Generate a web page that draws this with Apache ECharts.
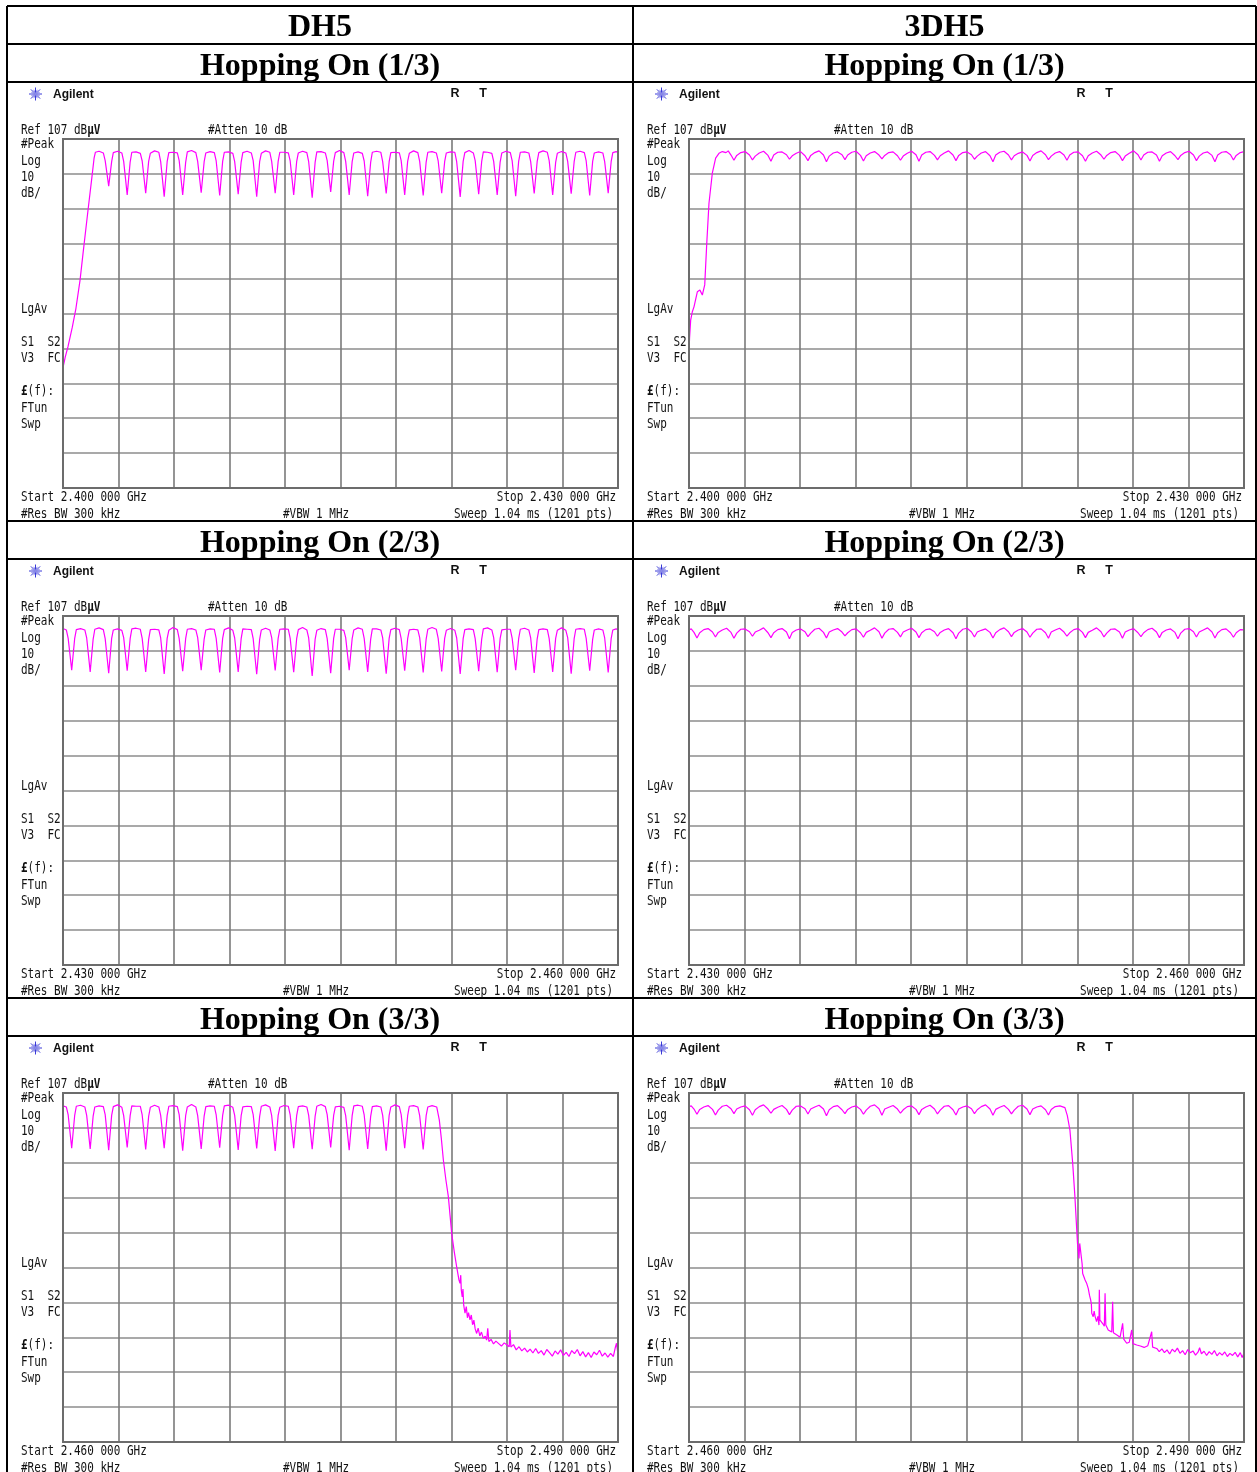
<!DOCTYPE html>
<html>
<head>
<meta charset="utf-8">
<script src="https://cdn.jsdelivr.net/npm/echarts/dist/echarts.min.js"></script>
<style>
  html, body { margin: 0; padding: 0; background: #fff; }
  #chart { width: 1257px; height: 1472px; }
</style>
</head>
<body>
<div id="chart"></div>
<script>
// ---- Table headings ----
const columnTitles = ['DH5', '3DH5'];
const rowTitles = ['Hopping On (1/3)', 'Hopping On (2/3)', 'Hopping On (3/3)'];

// ---- Analyzer settings (one sweep per row) ----
const spanStartMHz = [2400, 2430, 2460];
const spanStopMHz = [2430, 2460, 2490];
const refLevel = 107;      // dBµV, top of screen
const dbPerDiv = 10;
const divisions = 10;
const attenDb = 10;
const resBw = '300 kHz';
const vbw = '1 MHz';
const sweepText = '1.04 ms (1201 pts)';

// ---- Traces: [frequency MHz, level dBµV] ----
const dh5Low = [
  [2400.00, 41.5], [2400.05, 41.3], [2400.12, 44.5], [2400.27, 47.5], [2400.50, 53.0],
  [2400.70, 58.5], [2400.92, 66.5], [2401.10, 75.0], [2401.35, 86.5], [2401.55, 95.5],
  [2401.68, 101.5], [2401.75, 103.2], [2401.95, 103.5], [2402.18, 103.0], [2402.28, 100.8], [2402.47, 93.5],
  [2402.63, 100.5], [2402.72, 103.1], [2402.95, 103.5], [2403.18, 103.0], [2403.28, 100.6], [2403.47, 91.0],
  [2403.63, 100.4], [2403.72, 103.2], [2403.95, 103.3], [2404.18, 102.9], [2404.28, 100.7], [2404.47, 91.5],
  [2404.63, 100.6], [2404.72, 102.9], [2404.95, 103.6], [2405.18, 103.2], [2405.28, 100.5], [2405.47, 90.5],
  [2405.63, 100.5], [2405.72, 103.1], [2405.95, 103.2], [2406.18, 103.0], [2406.28, 100.8], [2406.47, 91.0],
  [2406.63, 100.3], [2406.72, 103.3], [2406.95, 103.7], [2407.18, 103.1], [2407.28, 100.6], [2407.47, 91.6],
  [2407.63, 100.5], [2407.72, 103.0], [2407.95, 103.4], [2408.18, 103.1], [2408.28, 100.7], [2408.47, 90.8],
  [2408.63, 100.6], [2408.72, 103.2], [2408.95, 103.3], [2409.18, 102.9], [2409.28, 100.5], [2409.47, 91.2],
  [2409.63, 100.4], [2409.72, 103.1], [2409.95, 103.5], [2410.18, 103.0], [2410.28, 100.8], [2410.47, 90.5],
  [2410.63, 100.5], [2410.72, 102.9], [2410.95, 103.6], [2411.18, 103.2], [2411.28, 100.6], [2411.47, 91.5],
  [2411.63, 100.6], [2411.72, 103.2], [2411.95, 103.2], [2412.18, 103.0], [2412.28, 100.7], [2412.47, 91.0],
  [2412.63, 100.5], [2412.72, 103.0], [2412.95, 103.5], [2413.18, 103.1], [2413.28, 100.5], [2413.47, 90.2],
  [2413.63, 100.4], [2413.72, 103.3], [2413.95, 103.4], [2414.18, 103.0], [2414.28, 100.8], [2414.47, 91.8],
  [2414.63, 100.6], [2414.72, 103.1], [2414.95, 103.7], [2415.18, 103.1], [2415.28, 100.6], [2415.47, 91.0],
  [2415.63, 100.5], [2415.72, 103.0], [2415.95, 103.3], [2416.18, 102.9], [2416.28, 100.7], [2416.47, 90.6],
  [2416.63, 100.3], [2416.72, 103.2], [2416.95, 103.5], [2417.18, 103.2], [2417.28, 100.5], [2417.47, 91.4],
  [2417.63, 100.5], [2417.72, 103.1], [2417.95, 103.2], [2418.18, 103.0], [2418.28, 100.8], [2418.47, 91.0],
  [2418.63, 100.6], [2418.72, 102.9], [2418.95, 103.6], [2419.18, 103.1], [2419.28, 100.6], [2419.47, 90.8],
  [2419.63, 100.4], [2419.72, 103.2], [2419.95, 103.4], [2420.18, 103.0], [2420.28, 100.7], [2420.47, 91.5],
  [2420.63, 100.5], [2420.72, 103.0], [2420.95, 103.3], [2421.18, 103.2], [2421.28, 100.5], [2421.47, 90.4],
  [2421.63, 100.6], [2421.72, 103.1], [2421.95, 103.7], [2422.18, 103.0], [2422.28, 100.8], [2422.47, 91.2],
  [2422.63, 100.5], [2422.72, 103.3], [2422.95, 103.2], [2423.18, 102.9], [2423.28, 100.6], [2423.47, 91.0],
  [2423.63, 100.4], [2423.72, 103.0], [2423.95, 103.5], [2424.18, 103.1], [2424.28, 100.7], [2424.47, 90.6],
  [2424.63, 100.6], [2424.72, 103.2], [2424.95, 103.3], [2425.18, 103.0], [2425.28, 100.5], [2425.47, 91.4],
  [2425.63, 100.5], [2425.72, 103.1], [2425.95, 103.6], [2426.18, 103.2], [2426.28, 100.8], [2426.47, 91.0],
  [2426.63, 100.3], [2426.72, 102.9], [2426.95, 103.4], [2427.18, 103.0], [2427.28, 100.6], [2427.47, 91.3],
  [2427.63, 100.5], [2427.72, 103.2], [2427.95, 103.5], [2428.18, 103.1], [2428.28, 100.7], [2428.47, 90.8],
  [2428.63, 100.6], [2428.72, 103.0], [2428.95, 103.3], [2429.18, 103.0], [2429.28, 100.5], [2429.47, 91.5],
  [2429.63, 100.5], [2429.72, 103.1], [2429.90, 103.4], [2430.00, 103.2]
];

const dh5Mid = [
  [2430.00, 103.4], [2430.18, 103.0], [2430.28, 100.6], [2430.47, 91.5],
  [2430.63, 100.5], [2430.72, 103.1], [2430.95, 103.4], [2431.18, 103.0], [2431.28, 100.7], [2431.47, 91.0],
  [2431.63, 100.4], [2431.72, 103.2], [2431.95, 103.6], [2432.18, 103.1], [2432.28, 100.5], [2432.47, 90.6],
  [2432.63, 100.6], [2432.72, 103.0], [2432.95, 103.3], [2433.18, 102.9], [2433.28, 100.8], [2433.47, 91.3],
  [2433.63, 100.5], [2433.72, 103.3], [2433.95, 103.5], [2434.18, 103.2], [2434.28, 100.6], [2434.47, 91.0],
  [2434.63, 100.3], [2434.72, 103.1], [2434.95, 103.2], [2435.18, 103.0], [2435.28, 100.7], [2435.47, 90.4],
  [2435.63, 100.6], [2435.72, 102.9], [2435.95, 103.7], [2436.18, 103.1], [2436.28, 100.5], [2436.47, 91.2],
  [2436.63, 100.5], [2436.72, 103.2], [2436.95, 103.4], [2437.18, 103.0], [2437.28, 100.8], [2437.47, 91.5],
  [2437.63, 100.4], [2437.72, 103.0], [2437.95, 103.3], [2438.18, 103.2], [2438.28, 100.6], [2438.47, 90.8],
  [2438.63, 100.6], [2438.72, 103.1], [2438.95, 103.6], [2439.18, 102.9], [2439.28, 100.7], [2439.47, 91.0],
  [2439.63, 100.5], [2439.72, 103.3], [2439.95, 103.2], [2440.18, 103.1], [2440.28, 100.5], [2440.47, 90.3],
  [2440.63, 100.3], [2440.72, 103.0], [2440.95, 103.5], [2441.18, 103.0], [2441.28, 100.8], [2441.47, 91.4],
  [2441.63, 100.6], [2441.72, 103.2], [2441.95, 103.3], [2442.18, 103.2], [2442.28, 100.6], [2442.47, 90.9],
  [2442.63, 100.5], [2442.72, 103.1], [2442.95, 103.7], [2443.18, 103.0], [2443.28, 100.7], [2443.47, 89.8],
  [2443.63, 100.4], [2443.72, 102.9], [2443.95, 103.4], [2444.18, 103.1], [2444.28, 100.5], [2444.47, 90.6],
  [2444.63, 100.6], [2444.72, 103.2], [2444.95, 103.2], [2445.18, 102.9], [2445.28, 100.8], [2445.47, 91.5],
  [2445.63, 100.5], [2445.72, 103.0], [2445.95, 103.6], [2446.18, 103.2], [2446.28, 100.6], [2446.47, 91.0],
  [2446.63, 100.3], [2446.72, 103.3], [2446.95, 103.3], [2447.18, 103.0], [2447.28, 100.7], [2447.47, 90.5],
  [2447.63, 100.6], [2447.72, 103.1], [2447.95, 103.5], [2448.18, 103.1], [2448.28, 100.5], [2448.47, 91.3],
  [2448.63, 100.5], [2448.72, 103.0], [2448.95, 103.2], [2449.18, 103.0], [2449.28, 100.8], [2449.47, 90.8],
  [2449.63, 100.4], [2449.72, 103.2], [2449.95, 103.7], [2450.18, 103.2], [2450.28, 100.6], [2450.47, 91.1],
  [2450.63, 100.6], [2450.72, 102.9], [2450.95, 103.4], [2451.18, 102.9], [2451.28, 100.7], [2451.47, 90.4],
  [2451.63, 100.5], [2451.72, 103.1], [2451.95, 103.3], [2452.18, 103.1], [2452.28, 100.5], [2452.47, 91.2],
  [2452.63, 100.3], [2452.72, 103.3], [2452.95, 103.6], [2453.18, 103.0], [2453.28, 100.8], [2453.47, 90.9],
  [2453.63, 100.6], [2453.72, 103.0], [2453.95, 103.2], [2454.18, 103.2], [2454.28, 100.6], [2454.47, 91.5],
  [2454.63, 100.5], [2454.72, 103.2], [2454.95, 103.5], [2455.18, 103.0], [2455.28, 100.7], [2455.47, 90.7],
  [2455.63, 100.4], [2455.72, 103.1], [2455.95, 103.3], [2456.18, 103.1], [2456.28, 100.5], [2456.47, 91.0],
  [2456.63, 100.6], [2456.72, 102.9], [2456.95, 103.6], [2457.18, 102.9], [2457.28, 100.8], [2457.47, 90.5],
  [2457.63, 100.5], [2457.72, 103.2], [2457.95, 103.4], [2458.18, 103.2], [2458.28, 100.6], [2458.47, 91.3],
  [2458.63, 100.3], [2458.72, 103.0], [2458.95, 103.3], [2459.18, 103.0], [2459.28, 100.7], [2459.47, 90.8],
  [2459.63, 100.5], [2459.72, 103.0], [2459.90, 103.3], [2460.00, 103.1]
];

const dh5High = [
  [2460.00, 103.3], [2460.18, 103.0], [2460.28, 100.7], [2460.47, 91.2],
  [2460.63, 100.5], [2460.72, 103.2], [2460.95, 103.5], [2461.18, 103.0], [2461.28, 100.6], [2461.47, 91.0],
  [2461.63, 100.4], [2461.72, 103.0], [2461.95, 103.3], [2462.18, 103.1], [2462.28, 100.8], [2462.47, 90.6],
  [2462.63, 100.6], [2462.72, 103.1], [2462.95, 103.6], [2463.18, 102.9], [2463.28, 100.5], [2463.47, 91.4],
  [2463.63, 100.5], [2463.72, 103.3], [2463.95, 103.2], [2464.18, 103.2], [2464.28, 100.7], [2464.47, 90.8],
  [2464.63, 100.3], [2464.72, 102.9], [2464.95, 103.5], [2465.18, 103.0], [2465.28, 100.6], [2465.47, 91.2],
  [2465.63, 100.6], [2465.72, 103.2], [2465.95, 103.4], [2466.18, 103.1], [2466.28, 100.8], [2466.47, 90.5],
  [2466.63, 100.5], [2466.72, 103.0], [2466.95, 103.7], [2467.18, 103.0], [2467.28, 100.5], [2467.47, 91.0],
  [2467.63, 100.4], [2467.72, 103.1], [2467.95, 103.3], [2468.18, 103.2], [2468.28, 100.7], [2468.47, 91.3],
  [2468.63, 100.6], [2468.72, 103.3], [2468.95, 103.5], [2469.18, 102.9], [2469.28, 100.6], [2469.47, 90.7],
  [2469.63, 100.5], [2469.72, 103.0], [2469.95, 103.2], [2470.18, 103.1], [2470.28, 100.8], [2470.47, 91.1],
  [2470.63, 100.3], [2470.72, 103.2], [2470.95, 103.6], [2471.18, 103.0], [2471.28, 100.5], [2471.47, 90.4],
  [2471.63, 100.6], [2471.72, 102.9], [2471.95, 103.4], [2472.18, 103.2], [2472.28, 100.7], [2472.47, 91.2],
  [2472.63, 100.5], [2472.72, 103.1], [2472.95, 103.3], [2473.18, 103.0], [2473.28, 100.6], [2473.47, 90.9],
  [2473.63, 100.4], [2473.72, 103.2], [2473.95, 103.7], [2474.18, 103.1], [2474.28, 100.8], [2474.47, 91.4],
  [2474.63, 100.6], [2474.72, 103.0], [2474.95, 103.2], [2475.18, 102.9], [2475.28, 100.5], [2475.47, 90.6],
  [2475.63, 100.5], [2475.72, 103.3], [2475.95, 103.5], [2476.18, 103.2], [2476.28, 100.7], [2476.47, 91.0],
  [2476.63, 100.3], [2476.72, 103.1], [2476.95, 103.3], [2477.18, 103.0], [2477.28, 100.6], [2477.47, 90.5],
  [2477.63, 100.6], [2477.72, 103.0], [2477.95, 103.6], [2478.18, 103.1], [2478.28, 100.8], [2478.47, 91.2],
  [2478.63, 100.5], [2478.72, 103.2], [2478.95, 103.4], [2479.18, 103.0], [2479.28, 100.5], [2479.47, 90.8],
  [2479.63, 100.5], [2479.72, 103.0], [2479.95, 103.4], [2480.20, 103.0],
  [2480.34, 99.3], [2480.45, 94.0], [2480.56, 87.8], [2480.70, 82.0], [2480.83, 77.3], [2480.92, 72.0],
  [2481.01, 66.8], [2481.15, 61.5], [2481.28, 57.2], [2481.40, 53.5], [2481.46, 52.5], [2481.50, 54.8],
  [2481.53, 50.5], [2481.58, 48.6], [2481.62, 50.8], [2481.66, 46.2], [2481.73, 43.9], [2481.80, 45.8],
  [2481.86, 42.6], [2481.92, 44.1], [2482.00, 42.0], [2482.07, 43.4], [2482.14, 40.6], [2482.21, 41.9],
  [2482.28, 39.4], [2482.36, 38.1], [2482.44, 39.6], [2482.53, 37.4], [2482.62, 38.5], [2482.72, 36.7],
  [2482.82, 37.3], [2482.90, 36.2], [2482.96, 39.6], [2483.02, 35.8], [2483.14, 36.4], [2483.27, 35.1],
  [2483.40, 35.9], [2483.55, 35.2], [2483.70, 34.5], [2483.85, 35.4], [2484.00, 34.8], [2484.12, 34.3],
  [2484.16, 39.1], [2484.21, 34.2], [2484.35, 34.9], [2484.50, 33.4], [2484.65, 34.3], [2484.80, 33.1],
  [2484.95, 33.9], [2485.10, 32.8], [2485.25, 33.6], [2485.40, 32.5], [2485.55, 33.8], [2485.70, 32.4],
  [2485.85, 33.2], [2486.00, 31.9], [2486.15, 33.5], [2486.30, 32.6], [2486.45, 31.6], [2486.60, 33.1],
  [2486.75, 32.2], [2486.90, 33.4], [2487.05, 31.8], [2487.20, 32.7], [2487.35, 31.5], [2487.50, 33.2],
  [2487.65, 32.3], [2487.80, 33.5], [2487.95, 31.7], [2488.10, 32.9], [2488.25, 31.4], [2488.40, 32.6],
  [2488.55, 31.2], [2488.70, 32.8], [2488.85, 32.0], [2489.00, 33.3], [2489.15, 31.6], [2489.30, 32.5],
  [2489.45, 31.3], [2489.60, 32.4], [2489.75, 31.5], [2489.85, 34.0], [2489.92, 35.3], [2490.00, 32.0]
];

const tdh5Low = [
  [2400.00, 45.5], [2400.03, 50.0], [2400.09, 55.1], [2400.18, 57.5], [2400.27, 58.9], [2400.45, 63.2],
  [2400.59, 63.7], [2400.72, 62.3], [2400.85, 65.2], [2400.96, 77.1], [2401.08, 88.6], [2401.26, 97.2],
  [2401.44, 101.5], [2401.62, 102.9], [2401.80, 103.4], [2402.00, 103.1], [2402.12, 103.6], [2402.27, 102.4], [2402.43, 100.9],
  [2402.58, 102.3], [2402.80, 103.1], [2403.03, 103.4], [2403.27, 102.4], [2403.43, 101.0],
  [2403.58, 102.1], [2403.80, 103.0], [2404.03, 103.5], [2404.27, 102.3], [2404.43, 100.6],
  [2404.58, 102.4], [2404.80, 103.2], [2405.03, 103.3], [2405.27, 102.5], [2405.43, 101.2],
  [2405.58, 102.2], [2405.80, 102.9], [2406.03, 103.4], [2406.27, 102.2], [2406.43, 100.8],
  [2406.58, 102.3], [2406.80, 103.1], [2407.03, 103.6], [2407.27, 102.4], [2407.43, 100.5],
  [2407.58, 102.1], [2407.80, 103.0], [2408.03, 103.3], [2408.27, 102.5], [2408.43, 101.1],
  [2408.58, 102.4], [2408.80, 103.2], [2409.03, 103.5], [2409.27, 102.3], [2409.43, 100.7],
  [2409.58, 102.2], [2409.80, 103.0], [2410.03, 103.4], [2410.27, 102.4], [2410.43, 101.3],
  [2410.58, 102.3], [2410.80, 103.1], [2411.03, 103.3], [2411.27, 102.2], [2411.43, 100.9],
  [2411.58, 102.1], [2411.80, 102.9], [2412.03, 103.5], [2412.27, 102.5], [2412.43, 100.6],
  [2412.58, 102.4], [2412.80, 103.2], [2413.03, 103.4], [2413.27, 102.3], [2413.43, 101.0],
  [2413.58, 102.2], [2413.80, 103.0], [2414.03, 103.6], [2414.27, 102.4], [2414.43, 100.8],
  [2414.58, 102.3], [2414.80, 103.1], [2415.03, 103.3], [2415.27, 102.5], [2415.43, 101.2],
  [2415.58, 102.1], [2415.80, 103.0], [2416.03, 103.4], [2416.27, 102.2], [2416.43, 100.5],
  [2416.58, 102.4], [2416.80, 103.2], [2417.03, 103.5], [2417.27, 102.4], [2417.43, 101.0],
  [2417.58, 102.2], [2417.80, 102.9], [2418.03, 103.3], [2418.27, 102.3], [2418.43, 100.7],
  [2418.58, 102.3], [2418.80, 103.1], [2419.03, 103.6], [2419.27, 102.5], [2419.43, 101.1],
  [2419.58, 102.1], [2419.80, 103.0], [2420.03, 103.4], [2420.27, 102.4], [2420.43, 100.9],
  [2420.58, 102.4], [2420.80, 103.2], [2421.03, 103.3], [2421.27, 102.2], [2421.43, 100.6],
  [2421.58, 102.2], [2421.80, 103.0], [2422.03, 103.5], [2422.27, 102.4], [2422.43, 101.2],
  [2422.58, 102.3], [2422.80, 103.1], [2423.03, 103.4], [2423.27, 102.3], [2423.43, 100.8],
  [2423.58, 102.1], [2423.80, 102.9], [2424.03, 103.6], [2424.27, 102.5], [2424.43, 101.0],
  [2424.58, 102.4], [2424.80, 103.2], [2425.03, 103.3], [2425.27, 102.4], [2425.43, 100.6],
  [2425.58, 102.2], [2425.80, 103.0], [2426.03, 103.4], [2426.27, 102.2], [2426.43, 101.1],
  [2426.58, 102.3], [2426.80, 103.1], [2427.03, 103.5], [2427.27, 102.4], [2427.43, 100.8],
  [2427.58, 102.1], [2427.80, 103.0], [2428.03, 103.3], [2428.27, 102.3], [2428.43, 100.5],
  [2428.58, 102.4], [2428.80, 103.2], [2429.03, 103.4], [2429.27, 102.5], [2429.43, 101.0],
  [2429.58, 102.3], [2429.80, 103.1], [2430.00, 103.4]
];

const tdh5Mid = [
  [2430.00, 103.0], [2430.12, 103.3], [2430.27, 102.3], [2430.43, 100.7],
  [2430.58, 102.2], [2430.80, 103.1], [2431.03, 103.4], [2431.27, 102.4], [2431.43, 101.0],
  [2431.58, 102.3], [2431.80, 103.0], [2432.03, 103.5], [2432.27, 102.3], [2432.43, 100.6],
  [2432.58, 102.1], [2432.80, 103.2], [2433.03, 103.3], [2433.27, 102.5], [2433.43, 101.2],
  [2433.58, 102.4], [2433.80, 102.9], [2434.03, 103.6], [2434.27, 102.2], [2434.43, 100.8],
  [2434.58, 102.2], [2434.80, 103.1], [2435.03, 103.4], [2435.27, 102.4], [2435.43, 100.5],
  [2435.58, 102.3], [2435.80, 103.0], [2436.03, 103.3], [2436.27, 102.5], [2436.43, 101.1],
  [2436.58, 102.1], [2436.80, 103.2], [2437.03, 103.5], [2437.27, 102.3], [2437.43, 100.7],
  [2437.58, 102.4], [2437.80, 103.0], [2438.03, 103.4], [2438.27, 102.4], [2438.43, 101.3],
  [2438.58, 102.2], [2438.80, 103.1], [2439.03, 103.3], [2439.27, 102.2], [2439.43, 100.9],
  [2439.58, 102.3], [2439.80, 102.9], [2440.03, 103.6], [2440.27, 102.5], [2440.43, 100.6],
  [2440.58, 102.1], [2440.80, 103.2], [2441.03, 103.4], [2441.27, 102.3], [2441.43, 101.0],
  [2441.58, 102.4], [2441.80, 103.0], [2442.03, 103.5], [2442.27, 102.4], [2442.43, 100.8],
  [2442.58, 102.2], [2442.80, 103.1], [2443.03, 103.3], [2443.27, 102.5], [2443.43, 101.2],
  [2443.58, 102.3], [2443.80, 103.0], [2444.03, 103.4], [2444.27, 102.2], [2444.43, 100.5],
  [2444.58, 102.1], [2444.80, 103.2], [2445.03, 103.5], [2445.27, 102.4], [2445.43, 101.0],
  [2445.58, 102.4], [2445.80, 102.9], [2446.03, 103.3], [2446.27, 102.3], [2446.43, 100.7],
  [2446.58, 102.2], [2446.80, 103.1], [2447.03, 103.6], [2447.27, 102.5], [2447.43, 101.1],
  [2447.58, 102.3], [2447.80, 103.0], [2448.03, 103.4], [2448.27, 102.4], [2448.43, 100.9],
  [2448.58, 102.1], [2448.80, 103.2], [2449.03, 103.3], [2449.27, 102.2], [2449.43, 100.6],
  [2449.58, 102.4], [2449.80, 103.0], [2450.03, 103.5], [2450.27, 102.4], [2450.43, 101.2],
  [2450.58, 102.2], [2450.80, 103.1], [2451.03, 103.4], [2451.27, 102.3], [2451.43, 100.8],
  [2451.58, 102.3], [2451.80, 102.9], [2452.03, 103.6], [2452.27, 102.5], [2452.43, 101.0],
  [2452.58, 102.1], [2452.80, 103.2], [2453.03, 103.3], [2453.27, 102.4], [2453.43, 100.6],
  [2453.58, 102.4], [2453.80, 103.0], [2454.03, 103.4], [2454.27, 102.2], [2454.43, 101.1],
  [2454.58, 102.2], [2454.80, 103.1], [2455.03, 103.5], [2455.27, 102.4], [2455.43, 100.8],
  [2455.58, 102.3], [2455.80, 103.0], [2456.03, 103.3], [2456.27, 102.3], [2456.43, 100.5],
  [2456.58, 102.1], [2456.80, 103.2], [2457.03, 103.4], [2457.27, 102.5], [2457.43, 101.0],
  [2457.58, 102.4], [2457.80, 103.0], [2458.03, 103.6], [2458.27, 102.4], [2458.43, 100.7],
  [2458.58, 102.2], [2458.80, 103.1], [2459.03, 103.3], [2459.27, 102.2], [2459.43, 100.9],
  [2459.58, 102.2], [2459.80, 103.1], [2460.00, 103.0]
];

const tdh5High = [
  [2460.00, 103.1], [2460.12, 103.3], [2460.27, 102.4], [2460.43, 100.9],
  [2460.58, 102.3], [2460.80, 103.0], [2461.03, 103.4], [2461.27, 102.3], [2461.43, 100.7],
  [2461.58, 102.1], [2461.80, 103.2], [2462.03, 103.5], [2462.27, 102.5], [2462.43, 101.1],
  [2462.58, 102.4], [2462.80, 103.0], [2463.03, 103.3], [2463.27, 102.2], [2463.43, 100.6],
  [2463.58, 102.2], [2463.80, 103.1], [2464.03, 103.6], [2464.27, 102.4], [2464.43, 101.2],
  [2464.58, 102.3], [2464.80, 102.9], [2465.03, 103.4], [2465.27, 102.3], [2465.43, 100.8],
  [2465.58, 102.1], [2465.80, 103.2], [2466.03, 103.3], [2466.27, 102.5], [2466.43, 101.0],
  [2466.58, 102.4], [2466.80, 103.0], [2467.03, 103.5], [2467.27, 102.4], [2467.43, 100.5],
  [2467.58, 102.2], [2467.80, 103.1], [2468.03, 103.4], [2468.27, 102.2], [2468.43, 101.1],
  [2468.58, 102.3], [2468.80, 103.0], [2469.03, 103.3], [2469.27, 102.3], [2469.43, 100.9],
  [2469.58, 102.1], [2469.80, 103.2], [2470.03, 103.6], [2470.27, 102.5], [2470.43, 100.6],
  [2470.58, 102.4], [2470.80, 102.9], [2471.03, 103.4], [2471.27, 102.4], [2471.43, 101.2],
  [2471.58, 102.2], [2471.80, 103.1], [2472.03, 103.3], [2472.27, 102.3], [2472.43, 100.8],
  [2472.58, 102.3], [2472.80, 103.0], [2473.03, 103.5], [2473.27, 102.4], [2473.43, 101.0],
  [2473.58, 102.1], [2473.80, 103.2], [2474.03, 103.4], [2474.27, 102.2], [2474.43, 100.7],
  [2474.58, 102.4], [2474.80, 103.0], [2475.03, 103.3], [2475.27, 102.5], [2475.43, 101.1],
  [2475.58, 102.2], [2475.80, 103.1], [2476.03, 103.6], [2476.27, 102.4], [2476.43, 100.6],
  [2476.58, 102.3], [2476.80, 102.9], [2477.03, 103.4], [2477.27, 102.3], [2477.43, 101.0],
  [2477.58, 102.1], [2477.80, 103.2], [2478.03, 103.5], [2478.27, 102.4], [2478.43, 100.8],
  [2478.58, 102.4], [2478.80, 103.0], [2479.03, 103.3], [2479.27, 102.2], [2479.43, 100.7],
  [2479.58, 102.3], [2479.80, 103.1], [2480.05, 103.3], [2480.32, 102.8],
  [2480.45, 100.5], [2480.59, 96.4], [2480.74, 86.9], [2480.86, 77.3], [2480.96, 67.7], [2481.00, 63.9],
  [2481.05, 64.2], [2481.08, 59.6], [2481.12, 63.9], [2481.20, 63.9], [2481.25, 58.0], [2481.28, 55.3],
  [2481.41, 53.4], [2481.50, 52.4], [2481.58, 51.0], [2481.65, 49.0], [2481.71, 47.7], [2481.75, 46.5],
  [2481.77, 43.9], [2481.85, 42.9], [2481.90, 44.5], [2481.95, 43.0], [2482.03, 41.5], [2482.10, 43.0],
  [2482.16, 40.5], [2482.18, 50.6], [2482.21, 42.0], [2482.30, 41.5], [2482.38, 40.8], [2482.45, 40.2],
  [2482.49, 49.6], [2482.53, 40.5], [2482.66, 39.1], [2482.75, 38.8], [2482.85, 38.5], [2482.90, 47.2],
  [2482.94, 38.3], [2483.03, 38.1], [2483.15, 37.6], [2483.30, 37.0], [2483.44, 41.0], [2483.50, 36.5],
  [2483.66, 35.3], [2483.80, 35.6], [2483.93, 39.1], [2484.00, 35.2], [2484.20, 34.8], [2484.40, 34.5],
  [2484.60, 34.1], [2484.80, 34.6], [2485.01, 38.6], [2485.06, 34.2], [2485.28, 33.8], [2485.42, 32.9],
  [2485.56, 33.7], [2485.70, 32.6], [2485.84, 33.4], [2485.98, 32.2], [2486.12, 33.6], [2486.26, 32.8],
  [2486.40, 33.9], [2486.54, 32.4], [2486.68, 33.2], [2486.82, 32.0], [2486.96, 33.5], [2487.10, 32.6],
  [2487.24, 33.1], [2487.38, 31.9], [2487.52, 32.8], [2487.60, 34.0], [2487.70, 32.3], [2487.84, 33.0],
  [2487.98, 31.8], [2488.12, 32.9], [2488.26, 32.1], [2488.40, 33.2], [2488.54, 31.7], [2488.68, 32.6],
  [2488.82, 31.9], [2488.96, 32.8], [2489.10, 31.5], [2489.24, 32.4], [2489.38, 31.8], [2489.52, 32.7],
  [2489.66, 31.4], [2489.80, 32.6], [2489.90, 31.2], [2490.00, 32.4]
];

// rows x columns
const traces = [
  [dh5Low, tdh5Low],
  [dh5Mid, tdh5Mid],
  [dh5High, tdh5High]
];

// ---- Page layout (pixels) ----
const tableLeft = 7, tableRight = 1256, tableTop = 6, tableBottom = 1490;
const colX = [7, 633];
const headerBottom = 44;
const rowTitleTop = [44, 521, 998];
const panelTop = [82, 559, 1036];
const plotDx = 56, plotDy = 57, plotW = 555, plotH = 349;

const TRACE = '#ff00ff';
const MONO = '"DejaVu Sans Mono", "Liberation Mono", monospace';
const SERIF = '"Liberation Serif", "Times New Roman", serif';
const SANS = '"Liberation Sans", Arial, sans-serif';

const graphics = [];
const grids = [], xAxes = [], yAxes = [], series = [];

function line(x1, y1, x2, y2, stroke, w, z) {
  graphics.push({ type: 'line', silent: true, z: z || 60,
    shape: { x1, y1, x2, y2 }, style: { stroke, lineWidth: w } });
}

function text(x, y, str, opt) {
  const o = opt || {};
  const align = o.align || 'left';
  const el = {
    type: 'text', silent: true, z: 60, x, y,
    scaleY: o.scaleY || 1,
    style: {
      text: str,
      fill: o.color || '#111',
      fontFamily: o.family || MONO,
      fontSize: o.size || 11,
      fontWeight: o.weight || 'normal',
      align: align, textAlign: align,
      verticalAlign: 'middle', textVerticalAlign: 'middle'
    }
  };
  if (o.rich) el.style.rich = o.rich;
  graphics.push(el);
}

// instrument annotation text, slightly stretched like the screen font
function mono(x, y, str, align, rich) {
  text(x, y + 1.5, str, { align, scaleY: 1.2, rich });
}

function agilentStar(cx, cy) {
  [0, 45, 90, 135].forEach(function (deg) {
    const r = deg * Math.PI / 180;
    const dx = Math.cos(r) * 6.5, dy = Math.sin(r) * 6.5;
    line(cx - dx, cy - dy, cx + dx, cy + dy, '#3a3ad8', 1, 61);
  });
  [22.5, 67.5, 112.5, 157.5].forEach(function (deg) {
    const r = deg * Math.PI / 180;
    const dx = Math.cos(r) * 4.5, dy = Math.sin(r) * 4.5;
    line(cx - dx, cy - dy, cx + dx, cy + dy, '#8a8ae8', 1, 61);
  });
}

function ghz(mhz) {
  return (mhz / 1000).toFixed(3) + ' 000 GHz';
}

const richRef = {
  n: { fontFamily: MONO, fontSize: 11, fill: '#111' },
  b: { fontFamily: MONO, fontSize: 11, fontWeight: 'bold', fill: '#111' }
};

// ---- Table grid ----
line(tableLeft, tableTop, tableRight, tableTop, '#000', 2);
line(tableLeft, tableTop, tableLeft, tableBottom, '#000', 2);
line(tableRight, tableTop, tableRight, tableBottom, '#000', 2);
line(colX[1], tableTop, colX[1], tableBottom, '#000', 2);
line(tableLeft, headerBottom, tableRight, headerBottom, '#000', 2);
rowTitleTop.forEach(function (y, r) {
  line(tableLeft, y, tableRight, y, '#000', 2);
  line(tableLeft, panelTop[r], tableRight, panelTop[r], '#000', 2);
});

// column headings
const colCenter = [(colX[0] + colX[1]) / 2, (colX[1] + tableRight) / 2];
columnTitles.forEach(function (t, c) {
  text(colCenter[c], 28, t, { align: 'center', family: SERIF, size: 32, weight: 'bold', color: '#000' });
});

// ---- Panels ----
rowTitles.forEach(function (rowTitle, r) {
  columnTitles.forEach(function (colTitle, c) {
    const k = grids.length;
    const px = colX[c], py = panelTop[r];

    text(colCenter[c], rowTitleTop[r] + 22.5, rowTitle,
      { align: 'center', family: SERIF, size: 32, weight: 'bold', color: '#000' });

    // header strip of the analyzer screen
    agilentStar(px + 28.5, py + 12);
    text(px + 46, py + 12.5, 'Agilent', { family: SANS, size: 12, weight: 'bold', color: '#111' });
    text(px + 448, py + 11.5, 'R', { align: 'center', family: SANS, size: 12.5, weight: 'bold', color: '#111' });
    text(px + 476, py + 11.5, 'T', { align: 'center', family: SANS, size: 12.5, weight: 'bold', color: '#111' });

    mono(px + 14, py + 47, '{n|Ref ' + refLevel + ' dB}{b|µV}', 'left', richRef);
    mono(px + 201, py + 47, '#Atten ' + attenDb + ' dB');
    mono(px + 14, py + 61.5, '#Peak');
    mono(px + 14, py + 78, 'Log');
    mono(px + 14, py + 94.5, String(dbPerDiv));
    mono(px + 14, py + 110.5, 'dB/');
    mono(px + 14, py + 226.5, 'LgAv');
    mono(px + 14, py + 259.5, 'S1  S2');
    mono(px + 14, py + 275.5, 'V3  FC');
    mono(px + 14, py + 308, '{b|£}{n|(f):}', 'left', richRef);
    mono(px + 14, py + 325, 'FTun');
    mono(px + 14, py + 341, 'Swp');
    mono(px + 14, py + 414.5, 'Start ' + ghz(spanStartMHz[r]));
    mono(px + 609, py + 414.5, 'Stop ' + ghz(spanStopMHz[r]), 'right');
    mono(px + 14, py + 431.5, '#Res BW ' + resBw);
    mono(px + 276, py + 431.5, '#VBW ' + vbw);
    mono(px + 606, py + 431.5, 'Sweep ' + sweepText, 'right');

    // plot frame
    graphics.push({ type: 'rect', silent: true, z: 55,
      shape: { x: px + plotDx, y: py + plotDy, width: plotW, height: plotH },
      style: { fill: 'none', stroke: '#6c6c6c', lineWidth: 2 } });

    grids.push({ left: px + plotDx, top: py + plotDy, width: plotW, height: plotH,
      show: false, containLabel: false });

    xAxes.push({
      gridIndex: k, type: 'value',
      min: spanStartMHz[r], max: spanStopMHz[r],
      interval: (spanStopMHz[r] - spanStartMHz[r]) / divisions,
      axisLine: { show: false }, axisTick: { show: false }, axisLabel: { show: false },
      splitLine: { show: true, lineStyle: { color: '#7a7a7a', width: 1.6 } }
    });
    // screen divisions
    yAxes.push({
      gridIndex: k, type: 'value', min: 0, max: divisions, interval: 1,
      axisLine: { show: false }, axisTick: { show: false }, axisLabel: { show: false },
      splitLine: { show: true, lineStyle: { color: '#a9a9a9', width: 1.8 } }
    });
    // level scale
    yAxes.push({
      gridIndex: k, type: 'value', show: false,
      min: refLevel - dbPerDiv * divisions, max: refLevel,
      splitLine: { show: false }
    });

    series.push({
      type: 'line', name: colTitle + ' ' + rowTitle,
      xAxisIndex: k, yAxisIndex: 2 * k + 1,
      data: traces[r][c],
      showSymbol: false, symbol: 'none', clip: true,
      lineStyle: { color: TRACE, width: 1.2 },
      animation: false, z: 10
    });
  });
});

const chart = echarts.init(document.getElementById('chart'), null, { renderer: 'canvas' });
chart.setOption({
  backgroundColor: '#ffffff',
  animation: false,
  grid: grids,
  xAxis: xAxes,
  yAxis: yAxes,
  series: series,
  graphic: { elements: graphics }
});
</script>
</body>
</html>
